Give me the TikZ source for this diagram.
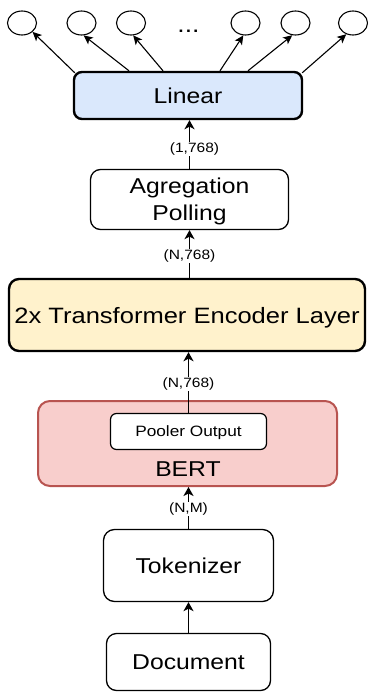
\documentclass[tikz,border=0pt]{standalone}
\usepackage{fontspec}
\setmainfont[FakeStretch=1.15]{Liberation Sans}
\usetikzlibrary{arrows.meta,shapes.geometric}
\definecolor{linfill}{HTML}{DAE8FC}
\definecolor{encfill}{HTML}{FFF2CC}
\definecolor{bertfill}{HTML}{F8CECC}
\definecolor{bertdraw}{HTML}{B85450}
\begin{document}
\begin{tikzpicture}[x=1pt,y=-1pt,
  mainfont/.style={font=\fontsize{21.5}{27.2}\selectfont},
  box/.style={draw=black, fill=white, rounded corners=10pt, line width=1.3pt,
    inner sep=0pt, text depth=0pt, mainfont, align=center},
  thickbox/.style={box, line width=2.4pt, rounded corners=8pt},
  unit/.style={draw=black, ellipse, line width=1.1pt, minimum width=29pt,
    minimum height=24pt, inner sep=0pt},
  conn/.style={line width=1.6pt, -{Stealth[length=9pt,width=10pt,inset=2.5pt]}},
  outconn/.style={line width=1.1pt, -{Stealth[length=9pt,width=8.5pt,inset=2.2pt]}},
  lbl/.style={fill=white, inner sep=1pt, font=\fontsize{13.5}{16}\selectfont}]
\useasboundingbox (0,0) rectangle (367,693);

% output units
\node[unit] (o1) at (22,23) {};
\node[unit] (o2) at (81.5,23) {};
\node[unit] (o3) at (131,23) {};
\node[unit] (o4) at (245.5,23) {};
\node[unit] (o5) at (295.5,23) {};
\node[unit] (o6) at (353,23) {};
\node[font=\fontsize{23}{27}\selectfont, anchor=base] (dots) at (188.5,33) {...};

% processing blocks
\node[thickbox, fill=linfill, minimum width=228pt, minimum height=47pt] (lin) at (188,95.5) {Linear};
\node[box, minimum width=198pt, minimum height=60pt] (agg) at (189.5,199.5) {Agregation\\Polling};
\node[thickbox, fill=encfill, rounded corners=10pt, minimum width=356pt, minimum height=72pt,
  font=\fontsize{22.2}{27}\selectfont] (trans) at (187,315) {2x Transformer Encoder Layer};
\node[box, fill=bertfill, draw=bertdraw, line width=2pt, rounded corners=12pt, minimum width=299pt, minimum height=85pt] (bert) at (187.5,443.5) {};
\node[box, rounded corners=6pt, line width=1.2pt, minimum width=156pt, minimum height=36pt, font=\fontsize{15}{18}\selectfont] (pool) at (188.5,431.5) {Pooler Output};
\node[mainfont, anchor=base] (berttxt) at (188,476) {BERT};
\node[box, rounded corners=11pt, minimum width=170pt, minimum height=72pt] (tok) at (188.5,565.5) {Tokenizer};
\node[box, minimum width=164pt, minimum height=57pt] (doc) at (188.5,662) {Document};

% fan-out from the linear layer
\coordinate (s1) at ([xshift=2pt,yshift=-2pt]lin.north west);
\coordinate (s2) at ([xshift=-59pt]lin.north);
\coordinate (s3) at ([xshift=-25pt]lin.north);
\coordinate (s4) at ([xshift=32pt]lin.north);
\coordinate (s5) at ([xshift=60pt]lin.north);
\coordinate (s6) at ([xshift=-1pt,yshift=-2pt]lin.north east);
\draw[outconn] (s1) -- (o1.-40);
\draw[outconn] (s2) -- (o2.-80);
\draw[outconn] (s3) -- (o3.-80);
\draw[outconn] (s4) -- (o4.-100);
\draw[outconn] (s5) -- (o5.-105);
\draw[outconn] (s6) -- (o6.-121);

% main data path
\draw[conn] (doc.north) -- (tok.south);
\draw[conn] (tok.north) -- (bert.south -| tok.north) node[lbl, pos=0.476] (l1) {(N,M)};
\draw[conn] (pool.north) -- (trans.south -| pool.north) node[lbl, pos=0.475] (l2) {(N,768)};
\draw[conn] (trans.north -| agg.south) -- (agg.south) node[lbl, pos=0.46] (l3) {(N,768)};
\draw[conn] (agg.north) -- (lin.south -| agg.north) node[lbl, pos=0.41, xshift=5pt] (l4) {(1,768)};
\end{tikzpicture}
\end{document}
